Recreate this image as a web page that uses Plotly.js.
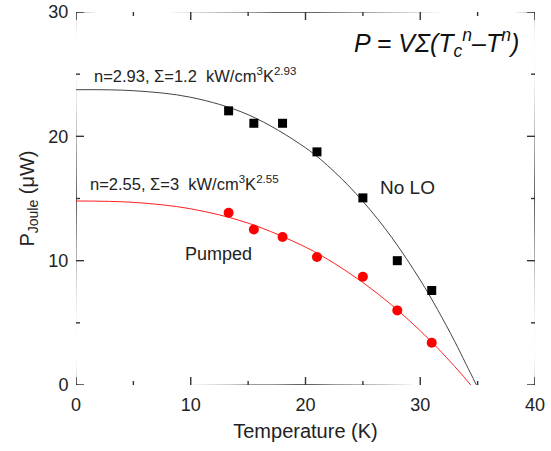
<!DOCTYPE html>
<html>
<head>
<meta charset="utf-8">
<script src="https://cdn.plot.ly/plotly-3.0.1.min.js"></script>
<style>
  html, body { margin: 0; padding: 0; background: #fff; }
  #chart { width: 551px; height: 451px; }
</style>
</head>
<body>
<div id="chart"></div>
<script>
// Measured Joule power vs. bath temperature
const noLoT = [13.3, 15.5, 18.0, 21.0, 25.0, 28.0, 31.0];
const noLoP = [22.05, 21.05, 21.05, 18.75, 15.05, 10.0, 7.6];
const pumpedT = [13.3, 15.5, 18.0, 21.0, 25.0, 28.0, 31.0];
const pumpedP = [13.85, 12.5, 11.9, 10.3, 8.7, 6.0, 3.4];

// Fitted curves P = VΣ(Tc^n − T^n)
const fitNoLoT = [0, 5, 10, 15, 20, 22.5, 25, 27.5, 30, 31.5, 33, 34, 34.9];
const fitNoLoP = [23.75, 23.67, 23.14, 21.74, 19.08, 17.16, 14.77, 11.89, 8.44, 6.08, 3.51, 1.66, 0];
const fitPumpedT = [0, 5, 10, 15, 20, 22.5, 25, 27.5, 30, 31.5, 33, 34, 34.4];
const fitPumpedP = [14.8, 14.69, 14.17, 13.02, 11.09, 9.79, 8.24, 6.44, 4.36, 2.98, 1.49, 0.44, 0];

// Axis ranges and tick positions (major every 10, minor every 5)
const xRange = [0, 40];
const yRange = [0, 30];
const xTickVals = [0, 5, 10, 15, 20, 25, 30, 35, 40];
const yTickVals = [0, 5, 10, 15, 20, 25, 30];

const font = 'Arial, "Liberation Sans", sans-serif';
const frameColor = '#333333';

const W = 551, H = 451;
const M = { l: 76, r: 16, t: 12, b: 66 };
// data units per screen pixel, used to give the ticks a fixed pixel length
const xPerPx = (xRange[1] - xRange[0]) / (W - M.l - M.r);
const yPerPx = (yRange[1] - yRange[0]) / (H - M.t - M.b);

const [x0, x1] = xRange, [y0, y1] = yRange;
const xm = (x0 + x1) / 2, ym = (y0 + y1) / 2;

// Box around the plot area (corner, mid-side, corner, ...)
const frame = {
  x: [x0, xm, x1, x1, x1, xm, x0, x0, x0],
  y: [y0, y0, y0, ym, y1, y1, y1, ym, y0],
  mode: 'lines', line: { color: frameColor, width: 1.6, shape: 'spline', smoothing: 0.05 },
  hoverinfo: 'skip', cliponaxis: false
};

// Inward ticks on all four sides, each as a three-point segment
const tx = [], ty = [];
function seg(ax, ay, bx, by) {
  tx.push(ax, (ax + bx) / 2, bx, null);
  ty.push(ay, (ay + by) / 2, by, null);
}
xTickVals.forEach(v => {
  const len = (v % 10 === 0 ? 8 : 4) * yPerPx;
  seg(v, y0, v, y0 + len);
  seg(v, y1, v, y1 - len);
});
yTickVals.forEach(v => {
  const len = (v % 10 === 0 ? 8 : 4) * xPerPx;
  seg(x0, v, x0 + len, v);
  seg(x1, v, x1 - len, v);
});
const tickMarks = {
  x: tx, y: ty, mode: 'lines', connectgaps: false,
  line: { color: frameColor, width: 1.4, shape: 'spline', smoothing: 0.05 },
  hoverinfo: 'skip', cliponaxis: false
};

const traces = [
  frame, tickMarks,
  { x: fitNoLoT, y: fitNoLoP, mode: 'lines', line: { color: '#444', width: 1, shape: 'spline' }, hoverinfo: 'skip' },
  { x: fitPumpedT, y: fitPumpedP, mode: 'lines', line: { color: '#ff2020', width: 1, shape: 'spline' }, hoverinfo: 'skip' },
  { x: noLoT, y: noLoP, mode: 'markers', marker: { symbol: 'square', size: 9, color: '#000' } },
  { x: pumpedT, y: pumpedP, mode: 'markers', marker: { symbol: 'circle', size: 10, color: '#ff0000' } }
];

const axisCommon = {
  showgrid: false, zeroline: false, showline: false,
  ticks: 'outside', ticklen: 3, tickcolor: 'rgba(0,0,0,0)',
  tickfont: { family: font, size: 18, color: '#222' },
  tickmode: 'linear', tick0: 0, dtick: 10
};

const layout = {
  width: W, height: H,
  margin: M,
  paper_bgcolor: '#fff', plot_bgcolor: '#fff',
  showlegend: false,
  xaxis: Object.assign({}, axisCommon, {
    range: xRange,
    title: { text: 'Temperature (K)', font: { family: font, size: 20, color: '#222' }, standoff: 10 }
  }),
  yaxis: Object.assign({}, axisCommon, {
    range: yRange,
    title: { text: 'P<sub>Joule</sub> (\u03bcW)', font: { family: font, size: 20, color: '#222' }, standoff: 8 }
  }),
  annotations: [
    { xref: 'x', yref: 'y', x: 38.8, y: 27.5, xanchor: 'right', yanchor: 'middle', showarrow: false,
      text: '<i>P = V\u03a3(T<sub>c</sub><sup>n</sup>\u2013T<sup>n</sup>)</i>',
      font: { family: font, size: 25, color: '#111' } },
    { xref: 'x', yref: 'y', x: 1.4, y: 24.9, xanchor: 'left', yanchor: 'middle', showarrow: false,
      text: 'n=2.93, \u03a3=1.2  kW/cm<sup>3</sup>K<sup>2.93</sup>',
      font: { family: font, size: 16.5, color: '#222' } },
    { xref: 'x', yref: 'y', x: 1.05, y: 16.25, xanchor: 'left', yanchor: 'middle', showarrow: false,
      text: 'n=2.55, \u03a3=3  kW/cm<sup>3</sup>K<sup>2.55</sup>',
      font: { family: font, size: 16.5, color: '#222' } },
    { xref: 'x', yref: 'y', x: 28.9, y: 15.9, xanchor: 'center', yanchor: 'middle', showarrow: false,
      text: 'No LO', font: { family: font, size: 19, color: '#222' } },
    { xref: 'x', yref: 'y', x: 12.4, y: 10.5, xanchor: 'center', yanchor: 'middle', showarrow: false,
      text: 'Pumped', font: { family: font, size: 18, color: '#222' } }
  ]
};

Plotly.newPlot('chart', traces, layout, { displayModeBar: false });
</script>
</body>
</html>
